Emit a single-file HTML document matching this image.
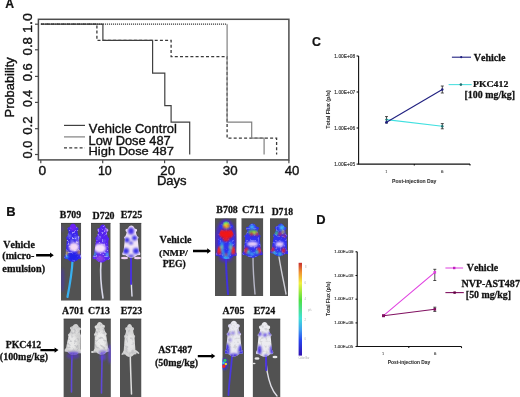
<!DOCTYPE html>
<html><head><meta charset="utf-8">
<style>
html,body{margin:0;padding:0;background:#fff;}
body{width:520px;height:397px;overflow:hidden;position:relative;}
svg{position:absolute;left:0;top:0;filter:blur(0.35px);}
text{font-kerning:none;}
</style></head>
<body>
<svg width="520" height="397" viewBox="0 0 520 397">
<defs>
  <filter id="bm" x="-20%" y="-20%" width="140%" height="140%"><feGaussianBlur stdDeviation="0.45"/></filter>
  <filter id="bo" x="-50%" y="-50%" width="200%" height="200%"><feGaussianBlur stdDeviation="1.0"/></filter>
  <linearGradient id="cbar" x1="0" y1="0" x2="0" y2="1">
    <stop offset="0" stop-color="#c83030"/>
    <stop offset="0.1" stop-color="#f09030"/>
    <stop offset="0.22" stop-color="#f0f040"/>
    <stop offset="0.4" stop-color="#50e040"/>
    <stop offset="0.6" stop-color="#40e0d8"/>
    <stop offset="0.72" stop-color="#40a0f0"/>
    <stop offset="0.83" stop-color="#2848f0"/>
    <stop offset="1" stop-color="#3010b0"/>
  </linearGradient>
</defs>

<g id="panelA">
  <rect x="38.4" y="19.3" width="250.5" height="140.6" fill="none" stroke="#4d4d4d" stroke-width="1.5"/>
  <g stroke="#4a4a4a" stroke-width="1.2">
    <line x1="35" y1="24.2" x2="38.3" y2="24.2"/>
    <line x1="35" y1="49.8" x2="38.3" y2="49.8"/>
    <line x1="35" y1="76.4" x2="38.3" y2="76.4"/>
    <line x1="35" y1="102.4" x2="38.3" y2="102.4"/>
    <line x1="35" y1="128.7" x2="38.3" y2="128.7"/>
    <line x1="35" y1="154.5" x2="38.3" y2="154.5"/>
    <line x1="40.8" y1="160" x2="40.8" y2="163.3"/>
    <line x1="102.7" y1="160" x2="102.7" y2="163.3"/>
    <line x1="164.6" y1="160" x2="164.6" y2="163.3"/>
    <line x1="227.1" y1="160" x2="227.1" y2="163.3"/>
    <line x1="288.9" y1="160" x2="288.9" y2="163.3"/>
  </g>
  <g fill="none" stroke-width="1.3">
    <polyline stroke="#3a3a3a" stroke-dasharray="3,2.2" points="40.9,24.2 96.9,24.2 96.9,40.4 171.1,40.4 171.1,56.7 227.1,56.7 227.1,138.2 276.6,138.2 276.6,154.6"/>
    <polyline stroke="#3a3a3a" stroke-width="1.2" stroke-dasharray="1.1,0.9" points="40.9,24.2 227.1,24.2"/>
    <polyline stroke="#808080" stroke-width="1.2" points="227.1,24.2 227.1,122.1 251.7,122.1 251.7,138.2 264.1,138.2 264.1,154.6"/>
    <polyline stroke="#404040" stroke-width="1.2" points="40.9,24.2 102.9,24.2 102.9,40.4 152.6,40.4 152.6,73.1 164.8,73.1 164.8,105.7 171.1,105.7 171.1,122.1 189.7,122.1 189.7,154.6"/>
  </g>
  <g stroke-width="1.3">
    <line x1="64" y1="125.4" x2="85" y2="125.4" stroke="#404040" stroke-width="1.2"/>
    <line x1="64" y1="136.9" x2="85" y2="136.9" stroke="#808080" stroke-width="1.2"/>
    <line x1="64" y1="147.9" x2="85" y2="147.9" stroke="#3a3a3a" stroke-dasharray="3,2.2"/>
  </g>
</g>

<g id="panelC">
  <g stroke="#111" stroke-width="1.1" fill="none">
    <polyline points="358.6,56 358.6,164.1 470,164.1"/>
    <line x1="356.6" y1="56" x2="358.6" y2="56"/>
    <line x1="356.6" y1="92" x2="358.6" y2="92"/>
    <line x1="356.6" y1="128" x2="358.6" y2="128"/>
    <line x1="356.6" y1="164.1" x2="358.6" y2="164.1"/>
    <line x1="414.3" y1="164.1" x2="414.3" y2="165.6"/>
    <line x1="470" y1="164.1" x2="470" y2="165.6"/>
  </g>
  <line x1="386.5" y1="119.6" x2="442.3" y2="126.3" stroke="#40e0e0" stroke-width="1.1"/>
  <line x1="386.5" y1="122.2" x2="442.3" y2="89.5" stroke="#202080" stroke-width="1.1"/>
  <g stroke="#222" stroke-width="0.8">
    <line x1="386.5" y1="116.6" x2="386.5" y2="123"/><line x1="385" y1="116.6" x2="388" y2="116.6"/><line x1="385" y1="123" x2="388" y2="123"/>
    <line x1="442.3" y1="86" x2="442.3" y2="93"/><line x1="440.8" y1="86" x2="443.8" y2="86"/><line x1="440.8" y1="93" x2="443.8" y2="93"/>
    <line x1="442.3" y1="123.6" x2="442.3" y2="128.8"/><line x1="440.8" y1="123.6" x2="443.8" y2="123.6"/><line x1="440.8" y1="128.8" x2="443.8" y2="128.8"/>
  </g>
  <circle cx="386.5" cy="122.3" r="1.4" fill="#202080"/>
  <circle cx="442.3" cy="89.5" r="1.2" fill="#202080"/>
  <circle cx="386.5" cy="119.6" r="1.2" fill="#207070"/>
  <circle cx="442.3" cy="126.3" r="1.2" fill="#207070"/>
  <line x1="451.9" y1="57.2" x2="471" y2="57.2" stroke="#202080" stroke-width="1.1"/>
  <circle cx="461.2" cy="57.2" r="1.1" fill="#202080"/>
  <line x1="448.6" y1="84.6" x2="471.7" y2="84.6" stroke="#50e0e0" stroke-width="1.1"/>
  <circle cx="460.9" cy="84.6" r="1.3" fill="#207070"/>
</g>

<g id="panelD">
  <g stroke="#111" stroke-width="1.1" fill="none">
    <polyline points="357.2,251.8 357.2,346.5 461.5,346.5"/>
    <line x1="355.5" y1="251.8" x2="357.2" y2="251.8"/>
    <line x1="355.5" y1="275.5" x2="357.2" y2="275.5"/>
    <line x1="355.5" y1="299.2" x2="357.2" y2="299.2"/>
    <line x1="355.5" y1="322.9" x2="357.2" y2="322.9"/>
    <line x1="355.5" y1="346.5" x2="357.2" y2="346.5"/>
    <line x1="408.8" y1="346.5" x2="408.8" y2="348.1"/>
    <line x1="461.5" y1="346.5" x2="461.5" y2="348.1"/>
  </g>
  <line x1="383.5" y1="315.7" x2="434.8" y2="272.3" stroke="#e040e0" stroke-width="1.1"/>
  <line x1="383.5" y1="315.7" x2="434.8" y2="309.3" stroke="#801060" stroke-width="1.1"/>
  <g stroke="#222" stroke-width="0.8">
    <line x1="434.8" y1="269.3" x2="434.8" y2="280.5"/><line x1="433.3" y1="269.3" x2="436.3" y2="269.3"/><line x1="433.3" y1="280.5" x2="436.3" y2="280.5"/>
    <line x1="434.8" y1="307.2" x2="434.8" y2="311.4"/><line x1="433.3" y1="307.2" x2="436.3" y2="307.2"/><line x1="433.3" y1="311.4" x2="436.3" y2="311.4"/>
  </g>
  <rect x="382" y="314.2" width="3" height="3" fill="#801060"/>
  <rect x="433.5" y="271" width="2.6" height="2.6" fill="#e040e0"/>
  <rect x="433.5" y="308" width="2.6" height="2.6" fill="#801060"/>
  <line x1="445.4" y1="268" x2="463.1" y2="268" stroke="#e050e0" stroke-width="1.1"/>
  <rect x="453" y="266.8" width="2.4" height="2.4" fill="#c020c0"/>
  <line x1="445.4" y1="292.6" x2="463.8" y2="292.6" stroke="#801060" stroke-width="1.1"/>
  <rect x="453.4" y="291.4" width="2.4" height="2.4" fill="#600040"/>
</g>
<g id="mice"><defs><filter id="speck1" x="0" y="0" width="100%" height="100%"><feTurbulence type="fractalNoise" baseFrequency="0.5" numOctaves="2" seed="1"/><feColorMatrix type="matrix" values="0 0 0 0 0.88  0 0 0 0 0.86  0 0 0 0 1  7 0 0 0 -3.9"/></filter><filter id="dspeck1" x="0" y="0" width="100%" height="100%"><feTurbulence type="fractalNoise" baseFrequency="0.35" numOctaves="2" seed="21"/><feColorMatrix type="matrix" values="0 0 0 0 0.45  0 0 0 0 0.45  0 0 0 0 0.48  5 0 0 0 -2.5"/></filter><filter id="speck2" x="0" y="0" width="100%" height="100%"><feTurbulence type="fractalNoise" baseFrequency="0.5" numOctaves="2" seed="2"/><feColorMatrix type="matrix" values="0 0 0 0 0.88  0 0 0 0 0.86  0 0 0 0 1  7 0 0 0 -3.9"/></filter><filter id="dspeck2" x="0" y="0" width="100%" height="100%"><feTurbulence type="fractalNoise" baseFrequency="0.35" numOctaves="2" seed="22"/><feColorMatrix type="matrix" values="0 0 0 0 0.45  0 0 0 0 0.45  0 0 0 0 0.48  5 0 0 0 -2.5"/></filter><filter id="speck3" x="0" y="0" width="100%" height="100%"><feTurbulence type="fractalNoise" baseFrequency="0.5" numOctaves="2" seed="3"/><feColorMatrix type="matrix" values="0 0 0 0 0.88  0 0 0 0 0.86  0 0 0 0 1  7 0 0 0 -3.9"/></filter><filter id="dspeck3" x="0" y="0" width="100%" height="100%"><feTurbulence type="fractalNoise" baseFrequency="0.35" numOctaves="2" seed="23"/><feColorMatrix type="matrix" values="0 0 0 0 0.45  0 0 0 0 0.45  0 0 0 0 0.48  5 0 0 0 -2.5"/></filter><filter id="speck4" x="0" y="0" width="100%" height="100%"><feTurbulence type="fractalNoise" baseFrequency="0.5" numOctaves="2" seed="4"/><feColorMatrix type="matrix" values="0 0 0 0 0.88  0 0 0 0 0.86  0 0 0 0 1  7 0 0 0 -3.9"/></filter><filter id="dspeck4" x="0" y="0" width="100%" height="100%"><feTurbulence type="fractalNoise" baseFrequency="0.35" numOctaves="2" seed="24"/><feColorMatrix type="matrix" values="0 0 0 0 0.45  0 0 0 0 0.45  0 0 0 0 0.48  5 0 0 0 -2.5"/></filter><filter id="speck5" x="0" y="0" width="100%" height="100%"><feTurbulence type="fractalNoise" baseFrequency="0.5" numOctaves="2" seed="5"/><feColorMatrix type="matrix" values="0 0 0 0 0.88  0 0 0 0 0.86  0 0 0 0 1  7 0 0 0 -3.9"/></filter><filter id="dspeck5" x="0" y="0" width="100%" height="100%"><feTurbulence type="fractalNoise" baseFrequency="0.35" numOctaves="2" seed="25"/><feColorMatrix type="matrix" values="0 0 0 0 0.45  0 0 0 0 0.45  0 0 0 0 0.48  5 0 0 0 -2.5"/></filter><filter id="speck6" x="0" y="0" width="100%" height="100%"><feTurbulence type="fractalNoise" baseFrequency="0.5" numOctaves="2" seed="6"/><feColorMatrix type="matrix" values="0 0 0 0 0.88  0 0 0 0 0.86  0 0 0 0 1  7 0 0 0 -3.9"/></filter><filter id="dspeck6" x="0" y="0" width="100%" height="100%"><feTurbulence type="fractalNoise" baseFrequency="0.35" numOctaves="2" seed="26"/><feColorMatrix type="matrix" values="0 0 0 0 0.45  0 0 0 0 0.45  0 0 0 0 0.48  5 0 0 0 -2.5"/></filter><filter id="speck7" x="0" y="0" width="100%" height="100%"><feTurbulence type="fractalNoise" baseFrequency="0.5" numOctaves="2" seed="7"/><feColorMatrix type="matrix" values="0 0 0 0 0.88  0 0 0 0 0.86  0 0 0 0 1  7 0 0 0 -3.9"/></filter><filter id="dspeck7" x="0" y="0" width="100%" height="100%"><feTurbulence type="fractalNoise" baseFrequency="0.35" numOctaves="2" seed="27"/><feColorMatrix type="matrix" values="0 0 0 0 0.45  0 0 0 0 0.45  0 0 0 0 0.48  5 0 0 0 -2.5"/></filter><filter id="speck8" x="0" y="0" width="100%" height="100%"><feTurbulence type="fractalNoise" baseFrequency="0.5" numOctaves="2" seed="8"/><feColorMatrix type="matrix" values="0 0 0 0 0.88  0 0 0 0 0.86  0 0 0 0 1  7 0 0 0 -3.9"/></filter><filter id="dspeck8" x="0" y="0" width="100%" height="100%"><feTurbulence type="fractalNoise" baseFrequency="0.35" numOctaves="2" seed="28"/><feColorMatrix type="matrix" values="0 0 0 0 0.45  0 0 0 0 0.45  0 0 0 0 0.48  5 0 0 0 -2.5"/></filter><filter id="speck9" x="0" y="0" width="100%" height="100%"><feTurbulence type="fractalNoise" baseFrequency="0.5" numOctaves="2" seed="9"/><feColorMatrix type="matrix" values="0 0 0 0 0.88  0 0 0 0 0.86  0 0 0 0 1  7 0 0 0 -3.9"/></filter><filter id="dspeck9" x="0" y="0" width="100%" height="100%"><feTurbulence type="fractalNoise" baseFrequency="0.35" numOctaves="2" seed="29"/><feColorMatrix type="matrix" values="0 0 0 0 0.45  0 0 0 0 0.45  0 0 0 0 0.48  5 0 0 0 -2.5"/></filter><filter id="speck10" x="0" y="0" width="100%" height="100%"><feTurbulence type="fractalNoise" baseFrequency="0.5" numOctaves="2" seed="10"/><feColorMatrix type="matrix" values="0 0 0 0 0.88  0 0 0 0 0.86  0 0 0 0 1  7 0 0 0 -3.9"/></filter><filter id="dspeck10" x="0" y="0" width="100%" height="100%"><feTurbulence type="fractalNoise" baseFrequency="0.35" numOctaves="2" seed="30"/><feColorMatrix type="matrix" values="0 0 0 0 0.45  0 0 0 0 0.45  0 0 0 0 0.48  5 0 0 0 -2.5"/></filter><filter id="speck11" x="0" y="0" width="100%" height="100%"><feTurbulence type="fractalNoise" baseFrequency="0.5" numOctaves="2" seed="11"/><feColorMatrix type="matrix" values="0 0 0 0 0.88  0 0 0 0 0.86  0 0 0 0 1  7 0 0 0 -3.9"/></filter><filter id="dspeck11" x="0" y="0" width="100%" height="100%"><feTurbulence type="fractalNoise" baseFrequency="0.35" numOctaves="2" seed="31"/><feColorMatrix type="matrix" values="0 0 0 0 0.45  0 0 0 0 0.45  0 0 0 0 0.48  5 0 0 0 -2.5"/></filter></defs>
<clipPath id="rc1"><rect x="61" y="222.8" width="20.2" height="77.9"/></clipPath>
<clipPath id="bc1"><path transform="translate(73,223.5) rotate(0) scale(1.000,1.050)" d="M 0,0 C 1.3,0 2.6,1.3 3.2,3.2 L 5.2,4.1 C 5.8,5.2 5.5,6.6 4.4,7.2 C 4.5,9 5.0,10.5 5.7,12 L 6.8,13 L 6.8,14.5 L 6.1,15 C 6.5,20 7.0,25 7.3,29 L 8.6,31.5 L 8.4,33.5 L 5.5,33.8 C 4.5,35 3,36 1,36.5 L -1,36.5 C -3,36 -4.5,35 -5.5,33.8 L -8.4,33.5 L -8.6,31.5 L -7.3,29 C -7.0,25 -6.5,20 -6.1,15 L -6.8,14.5 L -6.8,13 L -5.7,12 C -5.0,10.5 -4.5,9 -4.4,7.2 C -5.5,6.6 -5.8,5.2 -5.2,4.1 L -3.2,3.2 C -2.6,1.3 -1.3,0 0,0 Z"/></clipPath>
<g clip-path="url(#rc1)">
<rect x="61" y="222.8" width="20.2" height="77.9" fill="#525252"/>
<ellipse cx="62.5" cy="280" rx="2" ry="12" fill="#4a30c0" opacity="0.5" filter="url(#bo)"/><ellipse cx="62" cy="229" rx="1.5" ry="3" fill="#6040c0" opacity="0.4" filter="url(#bo)"/>
<g filter="url(#bm)">
<path d="M72.5,261 C72,272 70,284 67.5,297" fill="none" stroke="#38b0f0" stroke-width="2.2" stroke-linecap="round"/>
<path transform="translate(73,223.5) rotate(0) scale(1.000,1.050)" d="M 0,0 C 1.3,0 2.6,1.3 3.2,3.2 L 5.2,4.1 C 5.8,5.2 5.5,6.6 4.4,7.2 C 4.5,9 5.0,10.5 5.7,12 L 6.8,13 L 6.8,14.5 L 6.1,15 C 6.5,20 7.0,25 7.3,29 L 8.6,31.5 L 8.4,33.5 L 5.5,33.8 C 4.5,35 3,36 1,36.5 L -1,36.5 C -3,36 -4.5,35 -5.5,33.8 L -8.4,33.5 L -8.6,31.5 L -7.3,29 C -7.0,25 -6.5,20 -6.1,15 L -6.8,14.5 L -6.8,13 L -5.7,12 C -5.0,10.5 -4.5,9 -4.4,7.2 C -5.5,6.6 -5.8,5.2 -5.2,4.1 L -3.2,3.2 C -2.6,1.3 -1.3,0 0,0 Z" fill="#3a28ec"/>
<g clip-path="url(#bc1)">
<rect x="61" y="222.8" width="20.2" height="77.9" filter="url(#speck1)" opacity="0.6"/>
<ellipse cx="73" cy="227" rx="3.5" ry="4" fill="#7020f0" opacity="1" filter="url(#bo)"/>
<ellipse cx="69.5" cy="236" rx="1.2" ry="1.2" fill="#b0c0ff" opacity="1" filter="url(#bo)"/>
<ellipse cx="76" cy="238" rx="1.2" ry="1.2" fill="#c0c8ff" opacity="1" filter="url(#bo)"/>
<ellipse cx="72" cy="241" rx="1" ry="1" fill="#d0d0ff" opacity="1" filter="url(#bo)"/>
<ellipse cx="78" cy="242" rx="1.5" ry="1.5" fill="#e0c0f0" opacity="1" filter="url(#bo)"/>
<ellipse cx="74" cy="247" rx="5" ry="4.5" fill="#f4d8f4" opacity="1" filter="url(#bo)"/>
<ellipse cx="73" cy="257" rx="6" ry="4" fill="#2020e8" opacity="1" filter="url(#bo)"/>
<ellipse cx="66.4" cy="253" rx="1.5" ry="2" fill="#e0d020" opacity="1" filter="url(#bo)"/>
<ellipse cx="79.3" cy="252.3" rx="1.5" ry="2" fill="#e0a030" opacity="1" filter="url(#bo)"/>
<ellipse cx="67" cy="257" rx="1.3" ry="1.5" fill="#30d0f0" opacity="1" filter="url(#bo)"/>
</g>

</g>
<rect x="61" y="222.8" width="20.2" height="0.9" fill="#383838" opacity="0.7"/>
</g>
<clipPath id="rc2"><rect x="91" y="222.8" width="19.7" height="77.9"/></clipPath>
<clipPath id="bc2"><path transform="translate(103,224.5) rotate(3) scale(1.000,1.040)" d="M 0,0 C 1.3,0 2.6,1.3 3.2,3.2 L 5.2,4.1 C 5.8,5.2 5.5,6.6 4.4,7.2 C 4.5,9 5.0,10.5 5.7,12 L 6.8,13 L 6.8,14.5 L 6.1,15 C 6.5,20 7.0,25 7.3,29 L 8.6,31.5 L 8.4,33.5 L 5.5,33.8 C 4.5,35 3,36 1,36.5 L -1,36.5 C -3,36 -4.5,35 -5.5,33.8 L -8.4,33.5 L -8.6,31.5 L -7.3,29 C -7.0,25 -6.5,20 -6.1,15 L -6.8,14.5 L -6.8,13 L -5.7,12 C -5.0,10.5 -4.5,9 -4.4,7.2 C -5.5,6.6 -5.8,5.2 -5.2,4.1 L -3.2,3.2 C -2.6,1.3 -1.3,0 0,0 Z"/></clipPath>
<g clip-path="url(#rc2)">
<rect x="91" y="222.8" width="19.7" height="77.9" fill="#525252"/>

<g filter="url(#bm)">
<path d="M101,262 C100,274 101,286 103,298" fill="none" stroke="#d8d8e8" stroke-width="1.6" stroke-linecap="round"/>
<path transform="translate(103,224.5) rotate(3) scale(1.000,1.040)" d="M 0,0 C 1.3,0 2.6,1.3 3.2,3.2 L 5.2,4.1 C 5.8,5.2 5.5,6.6 4.4,7.2 C 4.5,9 5.0,10.5 5.7,12 L 6.8,13 L 6.8,14.5 L 6.1,15 C 6.5,20 7.0,25 7.3,29 L 8.6,31.5 L 8.4,33.5 L 5.5,33.8 C 4.5,35 3,36 1,36.5 L -1,36.5 C -3,36 -4.5,35 -5.5,33.8 L -8.4,33.5 L -8.6,31.5 L -7.3,29 C -7.0,25 -6.5,20 -6.1,15 L -6.8,14.5 L -6.8,13 L -5.7,12 C -5.0,10.5 -4.5,9 -4.4,7.2 C -5.5,6.6 -5.8,5.2 -5.2,4.1 L -3.2,3.2 C -2.6,1.3 -1.3,0 0,0 Z" fill="#5522f0"/>
<g clip-path="url(#bc2)">
<rect x="91" y="222.8" width="19.7" height="77.9" filter="url(#speck2)" opacity="0.5"/>
<ellipse cx="95.4" cy="230.3" rx="1.8" ry="1.8" fill="#f0c8f0" opacity="1" filter="url(#bo)"/>
<ellipse cx="107.5" cy="229.7" rx="1.8" ry="1.8" fill="#f0c8f0" opacity="1" filter="url(#bo)"/>
<ellipse cx="99" cy="238" rx="1.2" ry="1.2" fill="#9090ff" opacity="1" filter="url(#bo)"/>
<ellipse cx="104" cy="241" rx="1" ry="1" fill="#9090ff" opacity="1" filter="url(#bo)"/>
<ellipse cx="100" cy="248.2" rx="6" ry="4.5" fill="#f4e0f8" opacity="1" filter="url(#bo)"/>
<ellipse cx="94.2" cy="254" rx="1.6" ry="1.8" fill="#30e0c0" opacity="1" filter="url(#bo)"/>
<ellipse cx="107.3" cy="254.6" rx="1.6" ry="1.8" fill="#40d0f0" opacity="1" filter="url(#bo)"/>
<ellipse cx="100" cy="258.5" rx="4" ry="3" fill="#9040e0" opacity="1" filter="url(#bo)"/>
</g>

</g>
<rect x="91" y="222.8" width="19.7" height="0.9" fill="#383838" opacity="0.7"/>
</g>
<clipPath id="rc3"><rect x="119.5" y="222.8" width="22.0" height="77.9"/></clipPath>
<clipPath id="bc3"><path transform="translate(131.3,225.6) rotate(0) scale(1.050,0.880)" d="M 0,0 C 1.3,0 2.6,1.3 3.2,3.2 L 5.2,4.1 C 5.8,5.2 5.5,6.6 4.4,7.2 C 4.5,9 5.0,10.5 5.7,12 L 6.8,13 L 6.8,14.5 L 6.1,15 C 6.5,20 7.0,25 7.3,29 L 8.6,31.5 L 8.4,33.5 L 5.5,33.8 C 4.5,35 3,36 1,36.5 L -1,36.5 C -3,36 -4.5,35 -5.5,33.8 L -8.4,33.5 L -8.6,31.5 L -7.3,29 C -7.0,25 -6.5,20 -6.1,15 L -6.8,14.5 L -6.8,13 L -5.7,12 C -5.0,10.5 -4.5,9 -4.4,7.2 C -5.5,6.6 -5.8,5.2 -5.2,4.1 L -3.2,3.2 C -2.6,1.3 -1.3,0 0,0 Z"/></clipPath>
<g clip-path="url(#rc3)">
<rect x="119.5" y="222.8" width="22.0" height="77.9" fill="#525252"/>

<g filter="url(#bm)">
<path d="M131,258 C131,270 131,282 132,296" fill="none" stroke="#e0e0f0" stroke-width="1.4" stroke-linecap="round"/>
<path d="M131,258 L131,284" fill="none" stroke="#4a30d8" stroke-width="2" stroke-linecap="round"/>
<ellipse cx="124.5" cy="258" rx="3.5" ry="1.2" fill="#f0d0f0" transform="rotate(0 124.5 258)"/>
<ellipse cx="137.5" cy="258" rx="3.5" ry="1.2" fill="#f0d0f0" transform="rotate(0 137.5 258)"/>
<path transform="translate(131.3,225.6) rotate(0) scale(1.050,0.880)" d="M 0,0 C 1.3,0 2.6,1.3 3.2,3.2 L 5.2,4.1 C 5.8,5.2 5.5,6.6 4.4,7.2 C 4.5,9 5.0,10.5 5.7,12 L 6.8,13 L 6.8,14.5 L 6.1,15 C 6.5,20 7.0,25 7.3,29 L 8.6,31.5 L 8.4,33.5 L 5.5,33.8 C 4.5,35 3,36 1,36.5 L -1,36.5 C -3,36 -4.5,35 -5.5,33.8 L -8.4,33.5 L -8.6,31.5 L -7.3,29 C -7.0,25 -6.5,20 -6.1,15 L -6.8,14.5 L -6.8,13 L -5.7,12 C -5.0,10.5 -4.5,9 -4.4,7.2 C -5.5,6.6 -5.8,5.2 -5.2,4.1 L -3.2,3.2 C -2.6,1.3 -1.3,0 0,0 Z" fill="#f2e6f6"/>
<g clip-path="url(#bc3)">
<ellipse cx="131" cy="231" rx="3" ry="3.5" fill="#4a30e8" opacity="1" filter="url(#bo)"/>
<ellipse cx="127" cy="240" rx="2.5" ry="2.5" fill="#3a30e8" opacity="1" filter="url(#bo)"/>
<ellipse cx="134.5" cy="238" rx="2.5" ry="2.5" fill="#3a30e8" opacity="1" filter="url(#bo)"/>
<ellipse cx="131" cy="243" rx="2" ry="1.5" fill="#4a40e8" opacity="1" filter="url(#bo)"/>
<ellipse cx="126" cy="251" rx="3" ry="3" fill="#3a30e8" opacity="1" filter="url(#bo)"/>
<ellipse cx="136" cy="251" rx="3" ry="3" fill="#3a30e8" opacity="1" filter="url(#bo)"/>
<ellipse cx="131" cy="256" rx="3" ry="1.5" fill="#5040e0" opacity="1" filter="url(#bo)"/>
</g>

</g>
<rect x="119.5" y="222.8" width="22.0" height="0.9" fill="#383838" opacity="0.7"/>
</g>
<clipPath id="rc4"><rect x="215" y="218.3" width="21.6" height="77.7"/></clipPath>
<clipPath id="bc4"><path transform="translate(226.3,221) rotate(0) scale(1.250,1.040)" d="M 0,0 C 1.3,0 2.6,1.3 3.2,3.2 L 5.2,4.1 C 5.8,5.2 5.5,6.6 4.4,7.2 C 4.5,9 5.0,10.5 5.7,12 L 6.8,13 L 6.8,14.5 L 6.1,15 C 6.5,20 7.0,25 7.3,29 L 8.6,31.5 L 8.4,33.5 L 5.5,33.8 C 4.5,35 3,36 1,36.5 L -1,36.5 C -3,36 -4.5,35 -5.5,33.8 L -8.4,33.5 L -8.6,31.5 L -7.3,29 C -7.0,25 -6.5,20 -6.1,15 L -6.8,14.5 L -6.8,13 L -5.7,12 C -5.0,10.5 -4.5,9 -4.4,7.2 C -5.5,6.6 -5.8,5.2 -5.2,4.1 L -3.2,3.2 C -2.6,1.3 -1.3,0 0,0 Z"/></clipPath>
<g clip-path="url(#rc4)">
<rect x="215" y="218.3" width="21.6" height="77.7" fill="#525252"/>
<ellipse cx="225.8" cy="240" rx="11" ry="21" fill="#4828d8" opacity="0.8" filter="url(#bo)"/><ellipse cx="225.8" cy="259" rx="7" ry="4" fill="#4828d8" opacity="0.4" filter="url(#bo)"/>
<g filter="url(#bm)">
<path d="M226,258 C226,270 227,282 228,294" fill="none" stroke="#4030e0" stroke-width="2" stroke-linecap="round"/>
<path transform="translate(226.3,221) rotate(0) scale(1.250,1.040)" d="M 0,0 C 1.3,0 2.6,1.3 3.2,3.2 L 5.2,4.1 C 5.8,5.2 5.5,6.6 4.4,7.2 C 4.5,9 5.0,10.5 5.7,12 L 6.8,13 L 6.8,14.5 L 6.1,15 C 6.5,20 7.0,25 7.3,29 L 8.6,31.5 L 8.4,33.5 L 5.5,33.8 C 4.5,35 3,36 1,36.5 L -1,36.5 C -3,36 -4.5,35 -5.5,33.8 L -8.4,33.5 L -8.6,31.5 L -7.3,29 C -7.0,25 -6.5,20 -6.1,15 L -6.8,14.5 L -6.8,13 L -5.7,12 C -5.0,10.5 -4.5,9 -4.4,7.2 C -5.5,6.6 -5.8,5.2 -5.2,4.1 L -3.2,3.2 C -2.6,1.3 -1.3,0 0,0 Z" fill="#3030f0"/>
<g clip-path="url(#bc4)">
<rect x="215" y="218.3" width="21.6" height="77.7" filter="url(#speck4)" opacity="0.25"/>
<ellipse cx="226" cy="223.5" rx="3" ry="2" fill="#40e080" opacity="1" filter="url(#bo)"/>
<ellipse cx="226.3" cy="225.7" rx="3" ry="2.5" fill="#f0f020" opacity="1" filter="url(#bo)"/>
<ellipse cx="224.5" cy="227" rx="1.2" ry="1.2" fill="#f02020" opacity="1" filter="url(#bo)"/>
<ellipse cx="228" cy="226" rx="1.2" ry="1.2" fill="#f02020" opacity="1" filter="url(#bo)"/>
<ellipse cx="226.3" cy="234.5" rx="6.5" ry="4.5" fill="#f01818" opacity="1" filter="url(#bo)"/>
<ellipse cx="221.5" cy="233" rx="2.5" ry="3" fill="#f01818" opacity="1" filter="url(#bo)"/>
<ellipse cx="231" cy="233" rx="2.5" ry="3" fill="#f01818" opacity="1" filter="url(#bo)"/>
<ellipse cx="226" cy="239.5" rx="3" ry="2" fill="#f01818" opacity="1" filter="url(#bo)"/>
<ellipse cx="226" cy="246" rx="5" ry="3.5" fill="#3030f0" opacity="1" filter="url(#bo)"/>
<ellipse cx="219.2" cy="250.5" rx="2.4" ry="4" fill="#f02020" opacity="1" filter="url(#bo)"/>
<ellipse cx="233.2" cy="250.5" rx="2.4" ry="4" fill="#f02020" opacity="1" filter="url(#bo)"/>
<ellipse cx="221.5" cy="247" rx="1.5" ry="1.5" fill="#f0f020" opacity="0.8" filter="url(#bo)"/>
<ellipse cx="230.5" cy="247" rx="1.5" ry="1.5" fill="#f0f020" opacity="0.8" filter="url(#bo)"/>
<ellipse cx="226" cy="255" rx="1.5" ry="1.5" fill="#f02020" opacity="1" filter="url(#bo)"/>
<ellipse cx="226" cy="258" rx="3" ry="1.5" fill="#30d0f0" opacity="1" filter="url(#bo)"/>
</g>
<g filter="url(#bo)"><path d="M222.2,242 C221.2,247 222,252 225,256" fill="none" stroke="#30e0f0" stroke-width="1.5"/><path d="M230.4,242 C231.4,247 230.6,252 227.6,256" fill="none" stroke="#30e0f0" stroke-width="1.5"/></g>
</g>
<rect x="215" y="218.3" width="21.6" height="0.9" fill="#383838" opacity="0.7"/>
</g>
<clipPath id="rc5"><rect x="241.3" y="218.3" width="22.0" height="77.7"/></clipPath>
<clipPath id="bc5"><path transform="translate(252.5,223.4) rotate(0) scale(1.180,0.940)" d="M 0,0 C 1.3,0 2.6,1.3 3.2,3.2 L 5.2,4.1 C 5.8,5.2 5.5,6.6 4.4,7.2 C 4.5,9 5.0,10.5 5.7,12 L 6.8,13 L 6.8,14.5 L 6.1,15 C 6.5,20 7.0,25 7.3,29 L 8.6,31.5 L 8.4,33.5 L 5.5,33.8 C 4.5,35 3,36 1,36.5 L -1,36.5 C -3,36 -4.5,35 -5.5,33.8 L -8.4,33.5 L -8.6,31.5 L -7.3,29 C -7.0,25 -6.5,20 -6.1,15 L -6.8,14.5 L -6.8,13 L -5.7,12 C -5.0,10.5 -4.5,9 -4.4,7.2 C -5.5,6.6 -5.8,5.2 -5.2,4.1 L -3.2,3.2 C -2.6,1.3 -1.3,0 0,0 Z"/></clipPath>
<g clip-path="url(#rc5)">
<rect x="241.3" y="218.3" width="22.0" height="77.7" fill="#525252"/>

<g filter="url(#bm)">
<path d="M253,257 C253,270 254,283 255,294" fill="none" stroke="#b8b8c8" stroke-width="1.4" stroke-linecap="round"/>
<path transform="translate(252.5,223.4) rotate(0) scale(1.180,0.940)" d="M 0,0 C 1.3,0 2.6,1.3 3.2,3.2 L 5.2,4.1 C 5.8,5.2 5.5,6.6 4.4,7.2 C 4.5,9 5.0,10.5 5.7,12 L 6.8,13 L 6.8,14.5 L 6.1,15 C 6.5,20 7.0,25 7.3,29 L 8.6,31.5 L 8.4,33.5 L 5.5,33.8 C 4.5,35 3,36 1,36.5 L -1,36.5 C -3,36 -4.5,35 -5.5,33.8 L -8.4,33.5 L -8.6,31.5 L -7.3,29 C -7.0,25 -6.5,20 -6.1,15 L -6.8,14.5 L -6.8,13 L -5.7,12 C -5.0,10.5 -4.5,9 -4.4,7.2 C -5.5,6.6 -5.8,5.2 -5.2,4.1 L -3.2,3.2 C -2.6,1.3 -1.3,0 0,0 Z" fill="#3030f0"/>
<g clip-path="url(#bc5)">
<rect x="241.3" y="218.3" width="22.0" height="77.7" filter="url(#speck5)" opacity="0.3"/>
<ellipse cx="252" cy="227" rx="2.5" ry="2" fill="#40c0f0" opacity="1" filter="url(#bo)"/>
<ellipse cx="253" cy="232" rx="5" ry="1.8" fill="#60e040" opacity="1" filter="url(#bo)"/>
<ellipse cx="251.6" cy="234" rx="1.5" ry="1.8" fill="#f02020" opacity="1" filter="url(#bo)"/>
<ellipse cx="257" cy="234" rx="1.5" ry="1.8" fill="#f03020" opacity="1" filter="url(#bo)"/>
<ellipse cx="254.3" cy="233" rx="1" ry="1.5" fill="#f0e020" opacity="1" filter="url(#bo)"/>
<ellipse cx="252.5" cy="244" rx="5.5" ry="2.5" fill="#e8d0f8" opacity="1" filter="url(#bo)"/>
<ellipse cx="246.4" cy="250.6" rx="2" ry="3" fill="#f02020" opacity="1" filter="url(#bo)"/>
<ellipse cx="259.1" cy="250.6" rx="2" ry="3" fill="#f02020" opacity="1" filter="url(#bo)"/>
<ellipse cx="248.5" cy="252" rx="1.5" ry="2" fill="#30e0e0" opacity="1" filter="url(#bo)"/>
<ellipse cx="257" cy="252" rx="1.5" ry="2" fill="#30e0e0" opacity="1" filter="url(#bo)"/>
<ellipse cx="252" cy="254" rx="2" ry="1.5" fill="#40c0f0" opacity="1" filter="url(#bo)"/>
</g>

</g>
<rect x="241.3" y="218.3" width="22.0" height="0.9" fill="#383838" opacity="0.7"/>
</g>
<clipPath id="rc6"><rect x="270" y="218.3" width="18.0" height="77.7"/></clipPath>
<clipPath id="bc6"><path transform="translate(281,223.4) rotate(3.5) scale(1.050,0.900)" d="M 0,0 C 1.3,0 2.6,1.3 3.2,3.2 L 5.2,4.1 C 5.8,5.2 5.5,6.6 4.4,7.2 C 4.5,9 5.0,10.5 5.7,12 L 6.8,13 L 6.8,14.5 L 6.1,15 C 6.5,20 7.0,25 7.3,29 L 8.6,31.5 L 8.4,33.5 L 5.5,33.8 C 4.5,35 3,36 1,36.5 L -1,36.5 C -3,36 -4.5,35 -5.5,33.8 L -8.4,33.5 L -8.6,31.5 L -7.3,29 C -7.0,25 -6.5,20 -6.1,15 L -6.8,14.5 L -6.8,13 L -5.7,12 C -5.0,10.5 -4.5,9 -4.4,7.2 C -5.5,6.6 -5.8,5.2 -5.2,4.1 L -3.2,3.2 C -2.6,1.3 -1.3,0 0,0 Z"/></clipPath>
<g clip-path="url(#rc6)">
<rect x="270" y="218.3" width="18.0" height="77.7" fill="#525252"/>

<g filter="url(#bm)">
<path d="M279,257 C281,270 284,283 286,294" fill="none" stroke="#d0d0d8" stroke-width="1.4" stroke-linecap="round"/>
<path transform="translate(281,223.4) rotate(3.5) scale(1.050,0.900)" d="M 0,0 C 1.3,0 2.6,1.3 3.2,3.2 L 5.2,4.1 C 5.8,5.2 5.5,6.6 4.4,7.2 C 4.5,9 5.0,10.5 5.7,12 L 6.8,13 L 6.8,14.5 L 6.1,15 C 6.5,20 7.0,25 7.3,29 L 8.6,31.5 L 8.4,33.5 L 5.5,33.8 C 4.5,35 3,36 1,36.5 L -1,36.5 C -3,36 -4.5,35 -5.5,33.8 L -8.4,33.5 L -8.6,31.5 L -7.3,29 C -7.0,25 -6.5,20 -6.1,15 L -6.8,14.5 L -6.8,13 L -5.7,12 C -5.0,10.5 -4.5,9 -4.4,7.2 C -5.5,6.6 -5.8,5.2 -5.2,4.1 L -3.2,3.2 C -2.6,1.3 -1.3,0 0,0 Z" fill="#3030f0"/>
<g clip-path="url(#bc6)">
<rect x="270" y="218.3" width="18.0" height="77.7" filter="url(#speck6)" opacity="0.3"/>
<ellipse cx="281.9" cy="227.4" rx="2.5" ry="2.5" fill="#40c0f0" opacity="1" filter="url(#bo)"/>
<ellipse cx="276.5" cy="233" rx="1.8" ry="1.8" fill="#40e060" opacity="1" filter="url(#bo)"/>
<ellipse cx="280" cy="234" rx="1.5" ry="1.5" fill="#f02020" opacity="1" filter="url(#bo)"/>
<ellipse cx="283" cy="232" rx="1.5" ry="1.5" fill="#f0e020" opacity="1" filter="url(#bo)"/>
<ellipse cx="284.5" cy="236" rx="1.2" ry="1.2" fill="#f02020" opacity="1" filter="url(#bo)"/>
<ellipse cx="279.6" cy="244.2" rx="4" ry="2.5" fill="#e8d0f8" opacity="1" filter="url(#bo)"/>
<ellipse cx="272.6" cy="249.4" rx="1.8" ry="2.5" fill="#f02020" opacity="1" filter="url(#bo)"/>
<ellipse cx="274.5" cy="253" rx="2" ry="1.5" fill="#30e0e0" opacity="1" filter="url(#bo)"/>
<ellipse cx="283.6" cy="250.6" rx="1.8" ry="2.5" fill="#f02020" opacity="1" filter="url(#bo)"/>
<ellipse cx="280" cy="254" rx="2" ry="1.5" fill="#30e0e0" opacity="1" filter="url(#bo)"/>
</g>

</g>
<rect x="270" y="218.3" width="18.0" height="0.9" fill="#383838" opacity="0.7"/>
</g>
<clipPath id="rc7"><rect x="63.4" y="318.5" width="17.6" height="78.5"/></clipPath>
<clipPath id="bc7"><path transform="translate(76,324) rotate(6) scale(1.000,0.850)" d="M 0,0 C 1.3,0 2.6,1.3 3.2,3.2 L 5.2,4.1 C 5.8,5.2 5.5,6.6 4.4,7.2 C 4.5,9 5.0,10.5 5.7,12 L 6.8,13 L 6.8,14.5 L 6.1,15 C 6.5,20 7.0,25 7.3,29 L 8.6,31.5 L 8.4,33.5 L 5.5,33.8 C 4.5,35 3,36 1,36.5 L -1,36.5 C -3,36 -4.5,35 -5.5,33.8 L -8.4,33.5 L -8.6,31.5 L -7.3,29 C -7.0,25 -6.5,20 -6.1,15 L -6.8,14.5 L -6.8,13 L -5.7,12 C -5.0,10.5 -4.5,9 -4.4,7.2 C -5.5,6.6 -5.8,5.2 -5.2,4.1 L -3.2,3.2 C -2.6,1.3 -1.3,0 0,0 Z"/></clipPath>
<g clip-path="url(#rc7)">
<rect x="63.4" y="318.5" width="17.6" height="78.5" fill="#525252"/>

<g filter="url(#bm)">
<path d="M72,356 C71.5,368 71.5,380 71.5,392" fill="none" stroke="#6048d8" stroke-width="1.6" stroke-linecap="round"/>
<path transform="translate(76,324) rotate(6) scale(1.000,0.850)" d="M 0,0 C 1.3,0 2.6,1.3 3.2,3.2 L 5.2,4.1 C 5.8,5.2 5.5,6.6 4.4,7.2 C 4.5,9 5.0,10.5 5.7,12 L 6.8,13 L 6.8,14.5 L 6.1,15 C 6.5,20 7.0,25 7.3,29 L 8.6,31.5 L 8.4,33.5 L 5.5,33.8 C 4.5,35 3,36 1,36.5 L -1,36.5 C -3,36 -4.5,35 -5.5,33.8 L -8.4,33.5 L -8.6,31.5 L -7.3,29 C -7.0,25 -6.5,20 -6.1,15 L -6.8,14.5 L -6.8,13 L -5.7,12 C -5.0,10.5 -4.5,9 -4.4,7.2 C -5.5,6.6 -5.8,5.2 -5.2,4.1 L -3.2,3.2 C -2.6,1.3 -1.3,0 0,0 Z" fill="#d0d0d0"/>
<g clip-path="url(#bc7)">
<ellipse cx="72" cy="342" rx="5" ry="8" fill="#e8e8e8" opacity="1" filter="url(#bo)"/>
<ellipse cx="75" cy="332" rx="3" ry="3" fill="#e0e0e0" opacity="1" filter="url(#bo)"/>
<ellipse cx="68.1" cy="329.1" rx="1.5" ry="1.5" fill="#f4f4f4" opacity="1" filter="url(#bo)"/>
<ellipse cx="73" cy="354" rx="7" ry="2.5" fill="#5030d0" opacity="0.7" filter="url(#bo)"/>
<rect x="63.4" y="318.5" width="17.6" height="78.5" filter="url(#dspeck7)" opacity="0.6"/>
</g>
<ellipse cx="73" cy="356" rx="6.5" ry="3" fill="#5535d0" opacity="0.6" filter="url(#bo)"/>
</g>
<rect x="63.4" y="318.5" width="17.6" height="0.9" fill="#383838" opacity="0.7"/>
</g>
<clipPath id="rc8"><rect x="90" y="318.5" width="20.9" height="78.5"/></clipPath>
<clipPath id="bc8"><path transform="translate(99.5,321.9) rotate(-4) scale(0.930,0.900)" d="M 0,0 C 1.3,0 2.6,1.3 3.2,3.2 L 5.2,4.1 C 5.8,5.2 5.5,6.6 4.4,7.2 C 4.5,9 5.0,10.5 5.7,12 L 6.8,13 L 6.8,14.5 L 6.1,15 C 6.5,20 7.0,25 7.3,29 L 8.6,31.5 L 8.4,33.5 L 5.5,33.8 C 4.5,35 3,36 1,36.5 L -1,36.5 C -3,36 -4.5,35 -5.5,33.8 L -8.4,33.5 L -8.6,31.5 L -7.3,29 C -7.0,25 -6.5,20 -6.1,15 L -6.8,14.5 L -6.8,13 L -5.7,12 C -5.0,10.5 -4.5,9 -4.4,7.2 C -5.5,6.6 -5.8,5.2 -5.2,4.1 L -3.2,3.2 C -2.6,1.3 -1.3,0 0,0 Z"/></clipPath>
<g clip-path="url(#rc8)">
<rect x="90" y="318.5" width="20.9" height="78.5" fill="#525252"/>

<g filter="url(#bm)">
<path d="M102,356 C102,368 101.5,380 101.5,393" fill="none" stroke="#6048d8" stroke-width="1.6" stroke-linecap="round"/>
<path transform="translate(99.5,321.9) rotate(-4) scale(0.930,0.900)" d="M 0,0 C 1.3,0 2.6,1.3 3.2,3.2 L 5.2,4.1 C 5.8,5.2 5.5,6.6 4.4,7.2 C 4.5,9 5.0,10.5 5.7,12 L 6.8,13 L 6.8,14.5 L 6.1,15 C 6.5,20 7.0,25 7.3,29 L 8.6,31.5 L 8.4,33.5 L 5.5,33.8 C 4.5,35 3,36 1,36.5 L -1,36.5 C -3,36 -4.5,35 -5.5,33.8 L -8.4,33.5 L -8.6,31.5 L -7.3,29 C -7.0,25 -6.5,20 -6.1,15 L -6.8,14.5 L -6.8,13 L -5.7,12 C -5.0,10.5 -4.5,9 -4.4,7.2 C -5.5,6.6 -5.8,5.2 -5.2,4.1 L -3.2,3.2 C -2.6,1.3 -1.3,0 0,0 Z" fill="#d8d8d8"/>
<g clip-path="url(#bc8)">
<ellipse cx="101" cy="340" rx="5" ry="9" fill="#ececec" opacity="1" filter="url(#bo)"/>
<ellipse cx="95" cy="328" rx="1.5" ry="1.5" fill="#f4f4f4" opacity="1" filter="url(#bo)"/>
<ellipse cx="107.3" cy="326.9" rx="1.5" ry="1.5" fill="#f4f4f4" opacity="1" filter="url(#bo)"/>
<ellipse cx="103" cy="353" rx="4" ry="2.5" fill="#6040e0" opacity="0.7" filter="url(#bo)"/>
<rect x="90" y="318.5" width="20.9" height="78.5" filter="url(#dspeck8)" opacity="0.6"/>
</g>
<ellipse cx="103" cy="357" rx="3" ry="3.5" fill="#6040e0" opacity="0.7" filter="url(#bo)"/><ellipse cx="109.8" cy="354" rx="1.3" ry="10" fill="#6040e0" filter="url(#bo)"/><ellipse cx="92.5" cy="352" rx="1.5" ry="1" fill="#e0e0e0"/>
</g>
<rect x="90" y="318.5" width="20.9" height="0.9" fill="#383838" opacity="0.7"/>
</g>
<clipPath id="rc9"><rect x="120" y="318.5" width="21.5" height="78.5"/></clipPath>
<clipPath id="bc9"><path transform="translate(129.6,324.1) rotate(0) scale(0.800,0.900)" d="M 0,0 C 1.3,0 2.6,1.3 3.2,3.2 L 5.2,4.1 C 5.8,5.2 5.5,6.6 4.4,7.2 C 4.5,9 5.0,10.5 5.7,12 L 6.8,13 L 6.8,14.5 L 6.1,15 C 6.5,20 7.0,25 7.3,29 L 8.6,31.5 L 8.4,33.5 L 5.5,33.8 C 4.5,35 3,36 1,36.5 L -1,36.5 C -3,36 -4.5,35 -5.5,33.8 L -8.4,33.5 L -8.6,31.5 L -7.3,29 C -7.0,25 -6.5,20 -6.1,15 L -6.8,14.5 L -6.8,13 L -5.7,12 C -5.0,10.5 -4.5,9 -4.4,7.2 C -5.5,6.6 -5.8,5.2 -5.2,4.1 L -3.2,3.2 C -2.6,1.3 -1.3,0 0,0 Z"/></clipPath>
<g clip-path="url(#rc9)">
<rect x="120" y="318.5" width="21.5" height="78.5" fill="#525252"/>

<g filter="url(#bm)">
<path d="M130.3,356 C130.5,368 131,381 131.5,394" fill="none" stroke="#e0e0e0" stroke-width="1.5" stroke-linecap="round"/>
<ellipse cx="123.8" cy="353" rx="2.8" ry="1" fill="#d8d8d8" transform="rotate(-35 123.8 353)"/>
<ellipse cx="137" cy="352" rx="2.8" ry="1" fill="#d8d8d8" transform="rotate(35 137 352)"/>
<path transform="translate(129.6,324.1) rotate(0) scale(0.800,0.900)" d="M 0,0 C 1.3,0 2.6,1.3 3.2,3.2 L 5.2,4.1 C 5.8,5.2 5.5,6.6 4.4,7.2 C 4.5,9 5.0,10.5 5.7,12 L 6.8,13 L 6.8,14.5 L 6.1,15 C 6.5,20 7.0,25 7.3,29 L 8.6,31.5 L 8.4,33.5 L 5.5,33.8 C 4.5,35 3,36 1,36.5 L -1,36.5 C -3,36 -4.5,35 -5.5,33.8 L -8.4,33.5 L -8.6,31.5 L -7.3,29 C -7.0,25 -6.5,20 -6.1,15 L -6.8,14.5 L -6.8,13 L -5.7,12 C -5.0,10.5 -4.5,9 -4.4,7.2 C -5.5,6.6 -5.8,5.2 -5.2,4.1 L -3.2,3.2 C -2.6,1.3 -1.3,0 0,0 Z" fill="#d4d4d4"/>
<g clip-path="url(#bc9)">
<ellipse cx="130" cy="343" rx="4.5" ry="9" fill="#e4e4e4" opacity="1" filter="url(#bo)"/>
<rect x="120" y="318.5" width="21.5" height="78.5" filter="url(#dspeck9)" opacity="0.5"/>
</g>

</g>
<rect x="120" y="318.5" width="21.5" height="0.9" fill="#383838" opacity="0.7"/>
</g>
<clipPath id="rc10"><rect x="222.3" y="318.5" width="21.7" height="78.5"/></clipPath>
<clipPath id="bc10"><path transform="translate(233.9,320.7) rotate(0) scale(1.050,0.980)" d="M 0,0 C 1.3,0 2.6,1.3 3.2,3.2 L 5.2,4.1 C 5.8,5.2 5.5,6.6 4.4,7.2 C 4.5,9 5.0,10.5 5.7,12 L 6.8,13 L 6.8,14.5 L 6.1,15 C 6.5,20 7.0,25 7.3,29 L 8.6,31.5 L 8.4,33.5 L 5.5,33.8 C 4.5,35 3,36 1,36.5 L -1,36.5 C -3,36 -4.5,35 -5.5,33.8 L -8.4,33.5 L -8.6,31.5 L -7.3,29 C -7.0,25 -6.5,20 -6.1,15 L -6.8,14.5 L -6.8,13 L -5.7,12 C -5.0,10.5 -4.5,9 -4.4,7.2 C -5.5,6.6 -5.8,5.2 -5.2,4.1 L -3.2,3.2 C -2.6,1.3 -1.3,0 0,0 Z"/></clipPath>
<g clip-path="url(#rc10)">
<rect x="222.3" y="318.5" width="21.7" height="78.5" fill="#525252"/>

<g filter="url(#bm)">
<path d="M232,357 C231,370 229,382 228.5,395" fill="none" stroke="#4a38e0" stroke-width="1.8" stroke-linecap="round"/>
<path transform="translate(233.9,320.7) rotate(0) scale(1.050,0.980)" d="M 0,0 C 1.3,0 2.6,1.3 3.2,3.2 L 5.2,4.1 C 5.8,5.2 5.5,6.6 4.4,7.2 C 4.5,9 5.0,10.5 5.7,12 L 6.8,13 L 6.8,14.5 L 6.1,15 C 6.5,20 7.0,25 7.3,29 L 8.6,31.5 L 8.4,33.5 L 5.5,33.8 C 4.5,35 3,36 1,36.5 L -1,36.5 C -3,36 -4.5,35 -5.5,33.8 L -8.4,33.5 L -8.6,31.5 L -7.3,29 C -7.0,25 -6.5,20 -6.1,15 L -6.8,14.5 L -6.8,13 L -5.7,12 C -5.0,10.5 -4.5,9 -4.4,7.2 C -5.5,6.6 -5.8,5.2 -5.2,4.1 L -3.2,3.2 C -2.6,1.3 -1.3,0 0,0 Z" fill="#eaeaf0"/>
<g clip-path="url(#bc10)">
<ellipse cx="227.8" cy="326.2" rx="2" ry="2" fill="#c8c0f0" opacity="1" filter="url(#bo)"/>
<ellipse cx="240.7" cy="326.8" rx="2" ry="2" fill="#c8c0f0" opacity="1" filter="url(#bo)"/>
<ellipse cx="228.5" cy="334" rx="1.8" ry="1.8" fill="#5a40e0" opacity="1" filter="url(#bo)"/>
<ellipse cx="233" cy="333" rx="1.5" ry="1.5" fill="#6a50e0" opacity="1" filter="url(#bo)"/>
<ellipse cx="240" cy="332" rx="1.8" ry="1.8" fill="#5a40e0" opacity="1" filter="url(#bo)"/>
<ellipse cx="226.5" cy="350" rx="3.2" ry="7" fill="#4030e0" opacity="1" filter="url(#bo)"/>
<ellipse cx="241.5" cy="351" rx="3.2" ry="6.5" fill="#4030e0" opacity="1" filter="url(#bo)"/>
<ellipse cx="234" cy="356" rx="5" ry="2.5" fill="#4a30e0" opacity="1" filter="url(#bo)"/>
<ellipse cx="230" cy="340" rx="1.5" ry="2" fill="#6a50e0" opacity="0.7" filter="url(#bo)"/>
<rect x="222.3" y="318.5" width="21.7" height="78.5" filter="url(#dspeck10)" opacity="0.4"/>
</g>
<g filter="url(#bo)" opacity="0.95"><ellipse cx="224.5" cy="364" rx="3.5" ry="6" fill="#3030e0"/></g><ellipse cx="225" cy="360.5" rx="1.5" ry="1.4" fill="#30d060"/><ellipse cx="223.3" cy="362.8" rx="1.4" ry="1.4" fill="#30c0f0"/><ellipse cx="223.8" cy="366.2" rx="1.7" ry="1.7" fill="#f02020"/><ellipse cx="225.8" cy="364" rx="1.2" ry="1.2" fill="#f0e020"/>
</g>
<rect x="222.3" y="318.5" width="21.7" height="0.9" fill="#383838" opacity="0.7"/>
</g>
<clipPath id="rc11"><rect x="252.6" y="318.5" width="27.9" height="78.5"/></clipPath>
<clipPath id="bc11"><path transform="translate(264.6,322.1) rotate(0) scale(1.000,0.950)" d="M 0,0 C 1.3,0 2.6,1.3 3.2,3.2 L 5.2,4.1 C 5.8,5.2 5.5,6.6 4.4,7.2 C 4.5,9 5.0,10.5 5.7,12 L 6.8,13 L 6.8,14.5 L 6.1,15 C 6.5,20 7.0,25 7.3,29 L 8.6,31.5 L 8.4,33.5 L 5.5,33.8 C 4.5,35 3,36 1,36.5 L -1,36.5 C -3,36 -4.5,35 -5.5,33.8 L -8.4,33.5 L -8.6,31.5 L -7.3,29 C -7.0,25 -6.5,20 -6.1,15 L -6.8,14.5 L -6.8,13 L -5.7,12 C -5.0,10.5 -4.5,9 -4.4,7.2 C -5.5,6.6 -5.8,5.2 -5.2,4.1 L -3.2,3.2 C -2.6,1.3 -1.3,0 0,0 Z"/></clipPath>
<g clip-path="url(#rc11)">
<rect x="252.6" y="318.5" width="27.9" height="78.5" fill="#525252"/>

<g filter="url(#bm)">
<path d="M266,357 C266,368 268,378 271,386 C273,391 275,394 277,396" fill="none" stroke="#e0e0e8" stroke-width="1.4" stroke-linecap="round"/>
<path d="M266,357 L266.3,370" fill="none" stroke="#4a30e0" stroke-width="2" stroke-linecap="round"/>
<ellipse cx="257" cy="358.5" rx="2.5" ry="1.2" fill="#e8e8e8" transform="rotate(0 257 358.5)"/>
<ellipse cx="275" cy="357" rx="2.5" ry="1.2" fill="#e8e8e8" transform="rotate(0 275 357)"/>
<path transform="translate(264.6,322.1) rotate(0) scale(1.000,0.950)" d="M 0,0 C 1.3,0 2.6,1.3 3.2,3.2 L 5.2,4.1 C 5.8,5.2 5.5,6.6 4.4,7.2 C 4.5,9 5.0,10.5 5.7,12 L 6.8,13 L 6.8,14.5 L 6.1,15 C 6.5,20 7.0,25 7.3,29 L 8.6,31.5 L 8.4,33.5 L 5.5,33.8 C 4.5,35 3,36 1,36.5 L -1,36.5 C -3,36 -4.5,35 -5.5,33.8 L -8.4,33.5 L -8.6,31.5 L -7.3,29 C -7.0,25 -6.5,20 -6.1,15 L -6.8,14.5 L -6.8,13 L -5.7,12 C -5.0,10.5 -4.5,9 -4.4,7.2 C -5.5,6.6 -5.8,5.2 -5.2,4.1 L -3.2,3.2 C -2.6,1.3 -1.3,0 0,0 Z" fill="#ececf0"/>
<g clip-path="url(#bc11)">
<ellipse cx="257.1" cy="328.2" rx="2.2" ry="2.2" fill="#f4f4f4" opacity="1" filter="url(#bo)"/>
<ellipse cx="270" cy="328.2" rx="2" ry="2" fill="#f0f0f0" opacity="1" filter="url(#bo)"/>
<ellipse cx="259.5" cy="334" rx="2" ry="2" fill="#4a30e0" opacity="1" filter="url(#bo)"/>
<ellipse cx="265" cy="335" rx="1.8" ry="1.8" fill="#4a30e0" opacity="1" filter="url(#bo)"/>
<ellipse cx="270.5" cy="333.5" rx="2" ry="2" fill="#4a30e0" opacity="1" filter="url(#bo)"/>
<ellipse cx="259.5" cy="350" rx="2" ry="4.5" fill="#4a30e0" opacity="1" filter="url(#bo)"/>
<ellipse cx="272" cy="350" rx="2" ry="4.5" fill="#4a30e0" opacity="1" filter="url(#bo)"/>
<ellipse cx="266" cy="356" rx="2" ry="1.5" fill="#4a30e0" opacity="1" filter="url(#bo)"/>
<rect x="252.6" y="318.5" width="27.9" height="78.5" filter="url(#dspeck11)" opacity="0.4"/>
</g>
<ellipse cx="254" cy="363.5" rx="1.6" ry="0.8" fill="#e8e8e8"/>
</g>
<rect x="252.6" y="318.5" width="27.9" height="0.9" fill="#383838" opacity="0.7"/>
</g></g>
<g fill="#000">
  <path d="M36.1,253.9 L50,253.9 L50,252.6 L53.8,255.2 L50,257.8 L50,256.5 L36.1,256.5 Z"/>
  <path d="M193,249.7 L207.2,249.7 L207.2,248.2 L211,251 L207.2,253.8 L207.2,252.3 L193,252.3 Z"/>
  <path d="M40.4,348.9 L54.6,348.9 L54.6,347.5 L58.5,350.1 L54.6,352.7 L54.6,351.3 L40.4,351.3 Z"/>
  <path d="M197.8,354.9 L211.5,354.9 L211.5,353.5 L215.3,356.1 L211.5,358.7 L211.5,357.3 L197.8,357.3 Z"/>
</g>
<rect x="298.6" y="262.8" width="3.4" height="92.8" fill="url(#cbar)"/>
<g font-family='"Liberation Sans",sans-serif' font-size="2.6" fill="#aaa">
  <text x="305" y="267.8">8</text><text x="304.5" y="283.9">6</text><text x="304.5" y="299.8">4</text>
  <text x="308" y="310.5">p/s</text><text x="304.5" y="320.6">2</text><text x="304.5" y="339.6">0</text>
  <text x="298.5" y="358.5">Color Bar</text>
</g>
<text transform="translate(5.30,8.30) scale(0.967,1)" font-family='"Liberation Sans",sans-serif' font-weight="bold" font-size="12.646" fill="#111" stroke="#111" stroke-width="0.211" >A</text>
<text transform="translate(6.33,215.80) scale(0.979,1)" font-family='"Liberation Sans",sans-serif' font-weight="bold" font-size="13.227" fill="#111" stroke="#111" stroke-width="0.220" >B</text>
<text transform="translate(312.09,46.00) scale(0.972,1)" font-family='"Liberation Sans",sans-serif' font-weight="bold" font-size="12.746" fill="#111" stroke="#111" stroke-width="0.212" >C</text>
<text transform="translate(316.24,224.20) scale(1.068,1)" font-family='"Liberation Sans",sans-serif' font-weight="bold" font-size="12.064" fill="#111" stroke="#111" stroke-width="0.201" >D</text>
<text transform="translate(31.70,32.99) rotate(-90) scale(1.095,1)" font-family='"Liberation Sans",sans-serif' font-weight="normal" font-size="13.033" fill="#111" stroke="#111" stroke-width="0.380" >1.0</text>
<text transform="translate(31.70,55.42) rotate(-90) scale(1.015,1)" font-family='"Liberation Sans",sans-serif' font-weight="normal" font-size="13.033" fill="#111" stroke="#111" stroke-width="0.380" >0.8</text>
<text transform="translate(31.70,81.21) rotate(-90) scale(0.998,1)" font-family='"Liberation Sans",sans-serif' font-weight="normal" font-size="13.033" fill="#111" stroke="#111" stroke-width="0.380" >0.6</text>
<text transform="translate(31.70,106.98) rotate(-90) scale(0.952,1)" font-family='"Liberation Sans",sans-serif' font-weight="normal" font-size="13.033" fill="#111" stroke="#111" stroke-width="0.380" >0.4</text>
<text transform="translate(31.70,134.82) rotate(-90) scale(1.020,1)" font-family='"Liberation Sans",sans-serif' font-weight="normal" font-size="13.033" fill="#111" stroke="#111" stroke-width="0.380" >0.2</text>
<text transform="translate(31.70,158.40) rotate(-90) scale(0.977,1)" font-family='"Liberation Sans",sans-serif' font-weight="normal" font-size="13.033" fill="#111" stroke="#111" stroke-width="0.380" >0.0</text>
<text transform="translate(14.10,117.46) rotate(-90) scale(1.015,1)" font-family='"Liberation Sans",sans-serif' font-weight="normal" font-size="12.696" fill="#111" stroke="#111" stroke-width="0.370" >Probability</text>
<text transform="translate(38.46,175.40) scale(1.037,1)" font-family='"Liberation Sans",sans-serif' font-weight="normal" font-size="13.319" fill="#111" stroke="#111" stroke-width="0.388" >0</text>
<text transform="translate(97.95,175.40) scale(0.934,1)" font-family='"Liberation Sans",sans-serif' font-weight="normal" font-size="13.319" fill="#111" stroke="#111" stroke-width="0.388" >10</text>
<text transform="translate(160.34,175.40) scale(0.991,1)" font-family='"Liberation Sans",sans-serif' font-weight="normal" font-size="13.319" fill="#111" stroke="#111" stroke-width="0.388" >20</text>
<text transform="translate(222.79,175.40) scale(1.001,1)" font-family='"Liberation Sans",sans-serif' font-weight="normal" font-size="13.319" fill="#111" stroke="#111" stroke-width="0.388" >30</text>
<text transform="translate(284.80,175.40) scale(0.986,1)" font-family='"Liberation Sans",sans-serif' font-weight="normal" font-size="13.319" fill="#111" stroke="#111" stroke-width="0.388" >40</text>
<text transform="translate(156.93,184.70) scale(1.021,1)" font-family='"Liberation Sans",sans-serif' font-weight="normal" font-size="12.791" fill="#111" stroke="#111" stroke-width="0.373" >Days</text>
<text transform="translate(88.84,133.20) scale(1.058,1)" font-family='"Liberation Sans",sans-serif' font-weight="normal" font-size="12.282" fill="#111" stroke="#111" stroke-width="0.358" >Vehicle Control</text>
<text transform="translate(88.54,144.70) scale(1.045,1)" font-family='"Liberation Sans",sans-serif' font-weight="normal" font-size="12.317" fill="#111" stroke="#111" stroke-width="0.359" >Low Dose 487</text>
<text transform="translate(88.54,154.90) scale(1.101,1)" font-family='"Liberation Sans",sans-serif' font-weight="normal" font-size="11.730" fill="#111" stroke="#111" stroke-width="0.342" >High Dose 487</text>
<text transform="translate(334.33,57.80) scale(0.872,1)" font-family='"Liberation Sans",sans-serif' font-weight="normal" font-size="5.585" fill="#333" stroke="#333" stroke-width="0.163" >1.00E+08</text>
<text transform="translate(334.33,93.85) scale(0.873,1)" font-family='"Liberation Sans",sans-serif' font-weight="normal" font-size="5.585" fill="#333" stroke="#333" stroke-width="0.163" >1.00E+07</text>
<text transform="translate(334.33,129.85) scale(0.872,1)" font-family='"Liberation Sans",sans-serif' font-weight="normal" font-size="5.585" fill="#333" stroke="#333" stroke-width="0.163" >1.00E+06</text>
<text transform="translate(334.33,165.95) scale(0.871,1)" font-family='"Liberation Sans",sans-serif' font-weight="normal" font-size="5.585" fill="#333" stroke="#333" stroke-width="0.163" >1.00E+05</text>
<text transform="translate(385.47,172.50) scale(0.768,1)" font-family='"Liberation Sans",sans-serif' font-weight="normal" font-size="3.924" fill="#333" stroke="#333" stroke-width="0.114" >1</text>
<text transform="translate(440.97,172.50) scale(1.177,1)" font-family='"Liberation Sans",sans-serif' font-weight="normal" font-size="3.867" fill="#333" stroke="#333" stroke-width="0.113" >6</text>
<text transform="translate(392.06,183.30) scale(0.901,1)" font-family='"Liberation Sans",sans-serif' font-weight="bold" font-size="5.658" fill="#333" stroke="#333" stroke-width="0.094" >Post-injection Day</text>
<text transform="translate(330.40,128.76) rotate(-90) scale(1.007,1)" font-family='"Liberation Sans",sans-serif' font-weight="bold" font-size="5.382" fill="#333" stroke="#333" stroke-width="0.090" >Total Flux (p/s)</text>
<text transform="translate(473.69,60.90) scale(0.941,1)" font-family='"Liberation Serif",serif' font-weight="bold" font-size="10.665" fill="#111" stroke="#111" stroke-width="0.284" >Vehicle</text>
<text transform="translate(472.93,86.60) scale(1.064,1)" font-family='"Liberation Serif",serif' font-weight="bold" font-size="9.213" fill="#111" stroke="#111" stroke-width="0.246" >PKC412</text>
<text transform="translate(464.56,98.30) scale(1.030,1)" font-family='"Liberation Serif",serif' font-weight="bold" font-size="9.656" fill="#111" stroke="#111" stroke-width="0.258" >[100 mg/kg]</text>
<text transform="translate(334.16,253.00) scale(1.040,1)" font-family='"Liberation Sans",sans-serif' font-weight="normal" font-size="4.297" fill="#333" stroke="#333" stroke-width="0.125" >1.00E+09</text>
<text transform="translate(334.16,276.70) scale(1.039,1)" font-family='"Liberation Sans",sans-serif' font-weight="normal" font-size="4.297" fill="#333" stroke="#333" stroke-width="0.125" >1.00E+08</text>
<text transform="translate(334.16,300.40) scale(1.040,1)" font-family='"Liberation Sans",sans-serif' font-weight="normal" font-size="4.297" fill="#333" stroke="#333" stroke-width="0.125" >1.00E+07</text>
<text transform="translate(334.16,324.10) scale(1.039,1)" font-family='"Liberation Sans",sans-serif' font-weight="normal" font-size="4.297" fill="#333" stroke="#333" stroke-width="0.125" >1.00E+06</text>
<text transform="translate(334.16,347.80) scale(1.038,1)" font-family='"Liberation Sans",sans-serif' font-weight="normal" font-size="4.297" fill="#333" stroke="#333" stroke-width="0.125" >1.00E+05</text>
<text transform="translate(382.17,354.80) scale(0.830,1)" font-family='"Liberation Sans",sans-serif' font-weight="normal" font-size="3.634" fill="#333" stroke="#333" stroke-width="0.106" >1</text>
<text transform="translate(433.98,354.80) scale(1.211,1)" font-family='"Liberation Sans",sans-serif' font-weight="normal" font-size="3.580" fill="#333" stroke="#333" stroke-width="0.104" >6</text>
<text transform="translate(387.77,364.20) scale(0.928,1)" font-family='"Liberation Sans",sans-serif' font-weight="bold" font-size="5.244" fill="#333" stroke="#333" stroke-width="0.087" >Post-injection Day</text>
<text transform="translate(330.40,315.95) rotate(-90) scale(0.896,1)" font-family='"Liberation Sans",sans-serif' font-weight="bold" font-size="5.382" fill="#333" stroke="#333" stroke-width="0.090" >Total Flux (p/s)</text>
<text transform="translate(466.79,270.50) scale(1.026,1)" font-family='"Liberation Serif",serif' font-weight="bold" font-size="9.656" fill="#111" stroke="#111" stroke-width="0.258" >Vehicle</text>
<text transform="translate(461.41,286.80) scale(1.059,1)" font-family='"Liberation Serif",serif' font-weight="bold" font-size="9.473" fill="#111" stroke="#111" stroke-width="0.253" >NVP-AST487</text>
<text transform="translate(465.87,297.90) scale(1.023,1)" font-family='"Liberation Serif",serif' font-weight="bold" font-size="9.656" fill="#111" stroke="#111" stroke-width="0.258" >[50 mg/kg]</text>
<text transform="translate(59.84,217.50) scale(0.948,1)" font-family='"Liberation Serif",serif' font-weight="bold" font-size="10.375" fill="#111" stroke="#111" stroke-width="0.277" >B709</text>
<text transform="translate(92.53,218.70) scale(0.985,1)" font-family='"Liberation Serif",serif' font-weight="bold" font-size="10.075" fill="#111" stroke="#111" stroke-width="0.269" >D720</text>
<text transform="translate(120.63,217.50) scale(0.987,1)" font-family='"Liberation Serif",serif' font-weight="bold" font-size="10.119" fill="#111" stroke="#111" stroke-width="0.270" >E725</text>
<text transform="translate(216.34,213.30) scale(1.015,1)" font-family='"Liberation Serif",serif' font-weight="bold" font-size="9.774" fill="#111" stroke="#111" stroke-width="0.261" >B708</text>
<text transform="translate(241.90,213.30) scale(1.037,1)" font-family='"Liberation Serif",serif' font-weight="bold" font-size="9.817" fill="#111" stroke="#111" stroke-width="0.262" >C711</text>
<text transform="translate(271.63,214.90) scale(1.005,1)" font-family='"Liberation Serif",serif' font-weight="bold" font-size="9.623" fill="#111" stroke="#111" stroke-width="0.257" >D718</text>
<text transform="translate(62.10,314.20) scale(0.960,1)" font-family='"Liberation Serif",serif' font-weight="bold" font-size="10.225" fill="#111" stroke="#111" stroke-width="0.273" >A701</text>
<text transform="translate(88.02,314.20) scale(0.920,1)" font-family='"Liberation Serif",serif' font-weight="bold" font-size="10.723" fill="#111" stroke="#111" stroke-width="0.286" >C713</text>
<text transform="translate(120.73,314.20) scale(0.962,1)" font-family='"Liberation Serif",serif' font-weight="bold" font-size="10.270" fill="#111" stroke="#111" stroke-width="0.274" >E723</text>
<text transform="translate(222.40,313.70) scale(1.043,1)" font-family='"Liberation Serif",serif' font-weight="bold" font-size="9.473" fill="#111" stroke="#111" stroke-width="0.253" >A705</text>
<text transform="translate(253.63,313.70) scale(1.045,1)" font-family='"Liberation Serif",serif' font-weight="bold" font-size="9.515" fill="#111" stroke="#111" stroke-width="0.254" >E724</text>
<text transform="translate(3.29,247.80) scale(1.003,1)" font-family='"Liberation Serif",serif' font-weight="bold" font-size="9.945" fill="#111" stroke="#111" stroke-width="0.265" >Vehicle</text>
<text transform="translate(2.25,258.70) scale(0.981,1)" font-family='"Liberation Serif",serif' font-weight="bold" font-size="10.377" fill="#111" stroke="#111" stroke-width="0.277" >(micro-</text>
<text transform="translate(2.35,272.20) scale(1.018,1)" font-family='"Liberation Serif",serif' font-weight="bold" font-size="10.089" fill="#111" stroke="#111" stroke-width="0.269" >emulsion)</text>
<text transform="translate(159.49,243.30) scale(1.078,1)" font-family='"Liberation Serif",serif' font-weight="bold" font-size="9.368" fill="#111" stroke="#111" stroke-width="0.250" >Vehicle</text>
<text transform="translate(159.06,255.80) scale(1.083,1)" font-family='"Liberation Serif",serif' font-weight="bold" font-size="9.224" fill="#111" stroke="#111" stroke-width="0.246" >(NMP/</text>
<text transform="translate(162.63,267.20) scale(1.021,1)" font-family='"Liberation Serif",serif' font-weight="bold" font-size="9.512" fill="#111" stroke="#111" stroke-width="0.254" >PEG)</text>
<text transform="translate(5.63,348.10) scale(1.039,1)" font-family='"Liberation Serif",serif' font-weight="bold" font-size="9.515" fill="#111" stroke="#111" stroke-width="0.254" >PKC412</text>
<text transform="translate(-0.14,360.10) scale(1.032,1)" font-family='"Liberation Serif",serif' font-weight="bold" font-size="9.656" fill="#111" stroke="#111" stroke-width="0.258" >(100mg/kg)</text>
<text transform="translate(158.20,353.40) scale(1.043,1)" font-family='"Liberation Serif",serif' font-weight="bold" font-size="9.473" fill="#111" stroke="#111" stroke-width="0.253" >AST487</text>
<text transform="translate(154.96,365.60) scale(1.019,1)" font-family='"Liberation Serif",serif' font-weight="bold" font-size="9.800" fill="#111" stroke="#111" stroke-width="0.261" >(50mg/kg)</text>
</svg>
</body></html>
